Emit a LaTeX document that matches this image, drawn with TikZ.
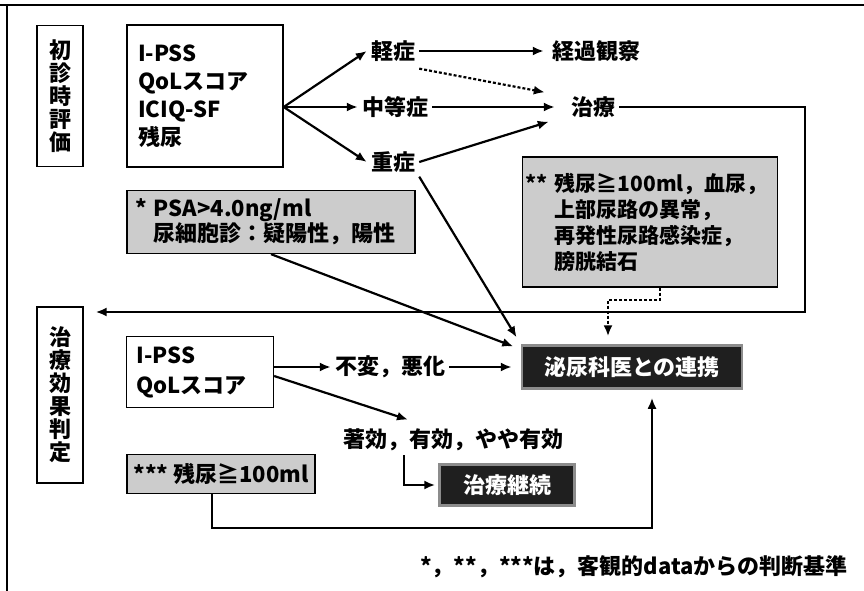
\documentclass[tikz,border=0pt]{standalone}
\usepackage{fontspec}
\setmainfont{Noto Sans CJK JP}
\usepackage{tikz}
\usetikzlibrary{arrows.meta,positioning,calc}

\begin{document}
\begin{tikzpicture}[x=1pt,y=-1pt,
  font=\fontsize{22}{28}\selectfont\bfseries,
  txt/.style={inner sep=4pt},
  box/.style={draw, line width=1.3pt, inner sep=0pt},
  vbox/.style={box, minimum width=46pt, align=center, font=\fontsize{22}{23}\selectfont\bfseries},
  graybox/.style={box, fill=black!20},
  darkbox/.style={draw=black!45, line width=2.5pt, fill=black!88, text=white, inner sep=0pt},
  arr/.style={line width=2.2pt, -{Latex[length=11pt,width=9pt]}},
  dotarr/.style={arr, dash pattern=on 3pt off 2pt}]

\useasboundingbox (0,0) rectangle (864,591);
\draw[line width=1.2pt] (0,5) -- (864,5);
\draw[line width=1.2pt] (7,5) -- (7,591);

% first visit
\node[vbox, minimum height=141pt] (Eval1) at (60,96) {初\\診\\時\\評\\価};
\node[box, minimum width=156pt, minimum height=142pt, text width=134pt, align=left] (Items1) at (205,96) {I-PSS\\QoLスコア\\ICIQ-SF\\残尿};
\node[txt] (Mild) at (393,51) {軽症};
\node[txt] (Moderate) at (395,107) {中等症};
\node[txt] (Severe) at (393,162) {重症};
\node[txt] (Observe) at (596,51) {経過観察};
\node[txt] (Treat) at (593,107) {治療};
\node[graybox, minimum width=288pt, minimum height=63pt, text width=272pt, align=left, font=\fontsize{22}{22}\selectfont\bfseries] (Crit1) at (271,222) {* PSA>4.0ng/ml\\\phantom{* }尿細胞診：疑陽性，陽性};
\node[graybox, minimum width=255pt, minimum height=130pt, text width=249pt, align=left, font=\fontsize{21}{26}\selectfont\bfseries] (Crit2) at (650,222) {\mbox{** 残尿≧100ml，血尿，}\\\phantom{** }上部尿路の異常，\\\phantom{** }再発性尿路感染症，\\\phantom{** }膀胱結石};
\node[darkbox, minimum width=220pt, minimum height=43pt] (Uro) at (632,367) {泌尿科医との連携};

% follow-up
\node[vbox, minimum height=176pt] (Eval2) at (60,395) {治\\療\\効\\果\\判\\定};
\node[box, minimum width=147pt, minimum height=71pt, text width=127pt, align=left, font=\fontsize{22}{30}\selectfont\bfseries] (Items2) at (200,372) {I-PSS\\QoLスコア};
\node[txt] (Worse) at (390,367) {不変，悪化};
\node[txt] (Good) at (453,440) {著効，有効，やや有効};
\node[darkbox, minimum width=135pt, minimum height=41pt] (Cont) at (507,485) {治療継続};
\node[graybox, minimum width=188pt, minimum height=39pt] (Crit3) at (221,474) {*** 残尿≧100ml};
\node (Note) at (634,567) {*，**，***は，客観的dataからの判断基準};

\coordinate (Fan) at (Items1.east |- Moderate.west);
\draw[arr] (Fan) -- (Mild.west);
\draw[arr] (Fan) -- (Moderate.west);
\draw[arr] (Fan) -- (Severe.west);
\draw[arr, shorten >=4pt] (Mild) -- (Observe);
\draw[dotarr] ([yshift=-3pt]Mild.south east) -- ([xshift=-22pt]Treat.north west);
\draw[arr, shorten >=12pt] (Moderate) -- (Treat);
\draw[arr] (Severe.east) -- ([xshift=-18pt]Treat.south west);
\draw[arr, shorten >=8pt] (Severe.south east) -- (Uro.north west);
\coordinate (Back) at (805,312);
\draw[arr, shorten >=12pt] (Treat.east) -| (Back) -- (Back -| Eval2.east);
\draw[arr, shorten >=8pt] (Crit1.south) -- ([yshift=-5pt]Uro.north west);
\draw[dotarr, shorten >=8pt] ([xshift=10pt]Crit2.south) -- ++(0,12) -| ([xshift=-24pt]Uro.north);
\draw[arr] (Items2.east |- Worse.west) -- (Worse.west);
\draw[arr, shorten >=9pt] (Worse) -- (Uro);
\draw[arr] ([yshift=-4pt]Items2.east) -- ([xshift=-45pt,yshift=5pt]Good.north);
\draw[arr, shorten >=3pt] ([xshift=-49pt]Good.south) |- (Cont.west);
\draw[arr, shorten >=8pt] ([xshift=-9pt]Crit3.south) -- ++(0,34) -| ([xshift=20pt]Uro.south);
\end{tikzpicture}
\end{document}
